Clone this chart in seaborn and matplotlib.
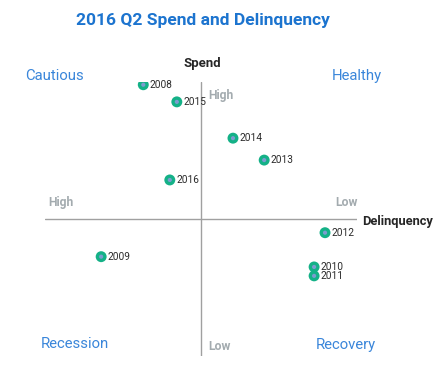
import matplotlib.pyplot as plt
import pandas as pd
import seaborn as sns

years = ["2008", "2015", "2014", "2013", "2016", "2012", "2009", "2010", "2011"]
delinquency = [-3.7, -1.55, 2.05, 4.05, -2.0, 7.95, -6.4, 7.25, 7.25]
spend = [9.8, 8.55, 5.9, 4.3, 2.85, -1.0, -2.75, -3.5, -4.15]

df = pd.DataFrame({"year": years, "delinquency": delinquency, "spend": spend})

sns.set_style("white")
plt.rcParams["font.family"] = ["Roboto", "DejaVu Sans"]

W, H = 447, 366
fig = plt.figure(figsize=(W / 100, H / 100), dpi=100)
# axes span the cross: x 45..357 px, y 82..356 px
ax = fig.add_axes([45 / W, (H - 356) / H, 312 / W, 274 / H])
ax.set_xlim(-10, 10)
ax.set_ylim(-10, 10)
ax.axis("off")

ax.axhline(0, color="#a0a0a0", lw=1)
ax.axvline(0, color="#a0a0a0", lw=1)

sns.scatterplot(data=df, x="delinquency", y="spend", s=62, color="#14b187",
                edgecolor="none", ax=ax, zorder=3)
sns.scatterplot(data=df, x="delinquency", y="spend", s=9, color="#7c9ccf",
                edgecolor="none", ax=ax, zorder=4)

for _, row in df.iterrows():
    ax.annotate(row["year"], (row["delinquency"], row["spend"]), xytext=(4.5, 0),
                textcoords="offset points", va="center", ha="left",
                fontsize=7.3, color="#2b2b2b", zorder=5)

def px(x, y, s, **kw):
    fig.text(x / W, 1 - y / H, s, **kw)

px(203, 20, "2016 Q2 Spend and Delinquency", ha="center", va="center",
   fontsize=12.5, fontweight="bold", color="#1c74cf")
px(202, 63, "Spend", ha="center", va="center", fontsize=9.5,
   fontweight="bold", color="#262626")
px(362, 221, "Delinquency", ha="left", va="center", fontsize=9.3,
   fontweight="bold", color="#262626")

gray = "#a3abaf"
px(208, 96, "High", ha="left", va="center", fontsize=8.7, fontweight="bold", color=gray)
px(208, 346, "Low", ha="left", va="center", fontsize=8.7, fontweight="bold", color=gray)
px(48, 203, "High", ha="left", va="center", fontsize=8.7, fontweight="bold", color=gray)
px(358, 203, "Low", ha="right", va="center", fontsize=8.7, fontweight="bold", color=gray)

blue = "#3a86da"
px(55, 76, "Cautious", ha="center", va="center", fontsize=10.7, color=blue)
px(357, 76, "Healthy", ha="center", va="center", fontsize=10.7, color=blue)
px(75, 344, "Recession", ha="center", va="center", fontsize=10.7, color=blue)
px(346, 345, "Recovery", ha="center", va="center", fontsize=10.7, color=blue)

fig.savefig("out.png", dpi=100)
